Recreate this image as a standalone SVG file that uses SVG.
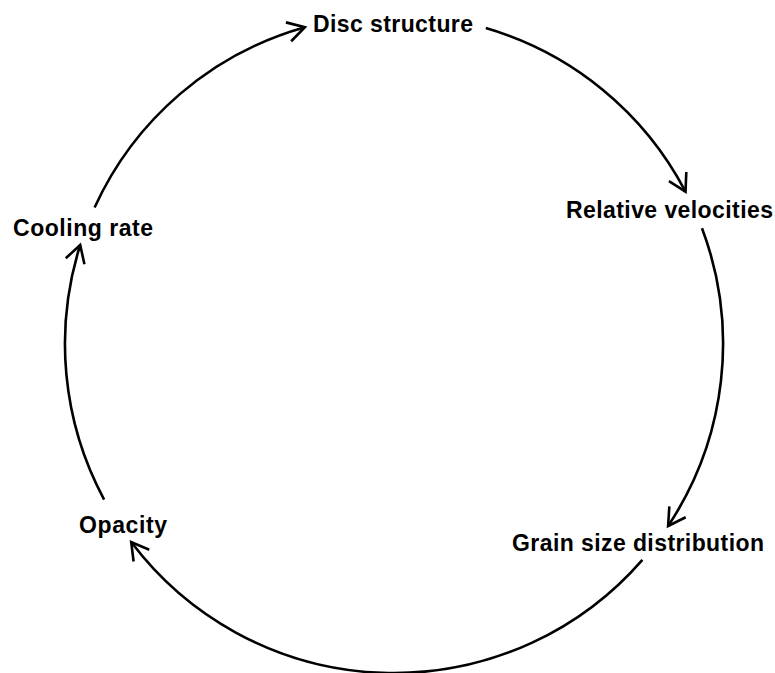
<svg xmlns="http://www.w3.org/2000/svg" width="775" height="673" viewBox="0 0 775 673">
<style>
.lbl{font-family:"Liberation Sans",Arial,Helvetica,sans-serif;font-weight:bold;font-size:23px;fill:#000}
.arc{fill:none;stroke:#000;stroke-width:2.6;marker-end:url(#ah)}
</style>
<defs>
<marker id="ah" markerUnits="userSpaceOnUse" orient="auto" refX="0" refY="0" markerWidth="40" markerHeight="40" overflow="visible">
<path d="M-17,-9.8 L0,0 L-17,9.8" fill="none" stroke="#000" stroke-width="2.6"/>
</marker>
</defs>
<rect width="775" height="673" fill="#fff"/>
<g id="connectors">
<path class="arc" d="M485.8,28.1 A329,329 0 0 1 685.5,191.6"/>
<path class="arc" d="M702,228.2 A329,329 0 0 1 668.1,526"/>
<path class="arc" d="M642.4,559.8 A329,329 0 0 1 131.2,542"/>
<path class="arc" d="M104.1,499.6 A329,329 0 0 1 80.2,245"/>
<path class="arc" d="M94.6,207.5 A329,329 0 0 1 304.9,27.2"/>
</g>
<g id="disc-structure"><text class="lbl" x="313" y="32" textLength="160" lengthAdjust="spacing">Disc structure</text></g>
<g id="relative-velocities"><text class="lbl" x="566" y="218" textLength="207" lengthAdjust="spacing">Relative velocities</text></g>
<g id="grain-size-distribution"><text class="lbl" x="512" y="551" textLength="252" lengthAdjust="spacing">Grain size distribution</text></g>
<g id="opacity"><text class="lbl" x="79" y="533" textLength="88" lengthAdjust="spacing">Opacity</text></g>
<g id="cooling-rate"><text class="lbl" x="13" y="236" textLength="140" lengthAdjust="spacing">Cooling rate</text></g>
</svg>
